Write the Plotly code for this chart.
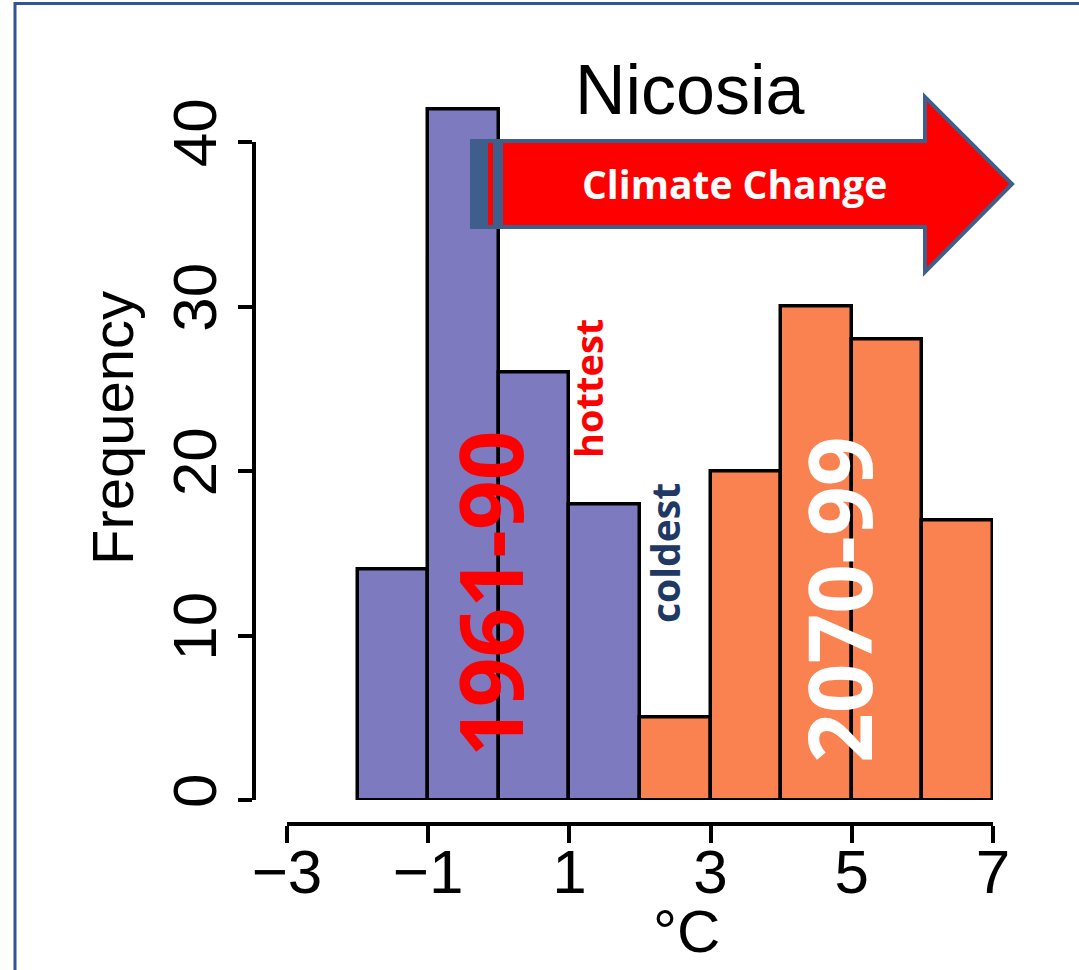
import plotly.graph_objects as go

# ---------------- data ----------------
blue_edges = [-2, -1, 0, 1, 2]          # 1961-90 bins (°C)
blue_counts = [14, 42, 26, 18]
orange_edges = [2, 3, 4, 5, 6, 7]       # 2070-99 bins (°C)
orange_counts = [5, 20, 30, 28, 17]

x_ticks = [-3, -1, 1, 3, 5, 7]
x_tick_text = ["\u22123", "\u22121", "1", "3", "5", "7"]
y_ticks = [0, 10, 20, 30, 40]
y_tick_text = ["0", "10", "20", "30", "40"]

title_text = "Nicosia"
x_title = "°C"
y_title = "Frequency"
label_past = "1961-90"
label_future = "2070-99"
label_hot = "hottest"
label_cold = "coldest"
arrow_text = "Climate Change"

# ---------------- layout geometry (pixels) ----------------
W, H = 1079, 970
X0_PX, X1_PX = 287, 993      # x = -3 .. 7
Y0_PX, Y40_PX = 800, 142     # y = 0 .. 40
px_per_y = (Y0_PX - Y40_PX) / 40.0


def fx(px):
    return px / W


def fy(py):
    return 1 - py / H


def mids(edges):
    return [(a + b) / 2 for a, b in zip(edges[:-1], edges[1:])]


def widths(edges):
    return [b - a for a, b in zip(edges[:-1], edges[1:])]


Y_MAX = 48
y_main_top_px = Y0_PX - px_per_y * Y_MAX

BLUE = "#7D7AC0"
ORANGE = "#FA8250"
AXFONT = "Liberation Sans, Arial, sans-serif"
BOLDFONT = "Open Sans, Noto Sans, sans-serif"

fig = go.Figure()
fig.add_trace(go.Bar(
    x=mids(blue_edges), y=blue_counts, width=widths(blue_edges),
    marker=dict(color=BLUE, line=dict(color="black", width=3.5)),
    xaxis="x", yaxis="y", showlegend=False, hoverinfo="skip"))
fig.add_trace(go.Bar(
    x=mids(orange_edges), y=orange_counts, width=widths(orange_edges),
    marker=dict(color=ORANGE, line=dict(color="black", width=3.5)),
    xaxis="x", yaxis="y", showlegend=False, hoverinfo="skip"))
# invisible trace carrying the tick-only y axis
fig.add_trace(go.Scatter(x=[0], y=[0], mode="markers", marker=dict(opacity=0),
                         xaxis="x", yaxis="y2", showlegend=False, hoverinfo="skip"))

fig.update_layout(
    width=W, height=H, autosize=False,
    margin=dict(l=0, r=0, t=0, b=0, pad=0, autoexpand=False),
    paper_bgcolor="white", plot_bgcolor="rgba(0,0,0,0)",
    bargap=0, showlegend=False,
    xaxis=dict(
        domain=[fx(X0_PX), fx(X1_PX)], range=[-3, 7],
        anchor="free", position=fy(824), automargin=False,
        showline=True, linecolor="black", linewidth=4,
        ticks="outside", ticklen=17, tickwidth=4, tickcolor="black",
        tickvals=x_ticks, ticktext=x_tick_text, ticklabelstandoff=-24,
        tickfont=dict(family=AXFONT, size=62, color="black"),
        showgrid=False, zeroline=False, fixedrange=True,
    ),
    yaxis=dict(
        domain=[fy(Y0_PX), fy(y_main_top_px)], range=[0, Y_MAX], automargin=False,
        visible=False, showgrid=False, zeroline=False, fixedrange=True,
    ),
    yaxis2=dict(
        domain=[fy(Y0_PX), fy(Y40_PX)], range=[0, 40],
        anchor="free", position=fx(254), side="left", automargin=False,
        showline=True, linecolor="black", linewidth=4,
        ticks="outside", ticklen=14, tickwidth=4, tickcolor="black",
        tickvals=y_ticks, ticktext=y_tick_text, tickangle=-90, ticklabelstandoff=-3,
        tickfont=dict(family=AXFONT, size=62, color="black"),
        showgrid=False, zeroline=False, fixedrange=True,
    ),
)

shapes = []
# frame
shapes.append(dict(type="line", xref="paper", yref="paper", x0=fx(14), x1=1, y0=fy(3.5), y1=fy(3.5),
                   line=dict(color="#2E5594", width=3), layer="above"))
shapes.append(dict(type="line", xref="paper", yref="paper", x0=fx(15), x1=fx(15), y0=fy(2), y1=0,
                   line=dict(color="#2E5594", width=3), layer="above"))
# arrow
pts = [(472, 141), (925, 141), (925, 97), (1012, 184), (925, 272), (925, 227), (472, 227)]
path = "M " + " L ".join(f"{fx(a):.5f},{fy(b):.5f}" for a, b in pts) + " Z"
shapes.append(dict(type="path", xref="paper", yref="paper", path=path,
                   fillcolor="#FF0000", line=dict(color="#3E5F8C", width=4), layer="above"))
shapes.append(dict(type="rect", xref="paper", yref="paper", x0=fx(472), x1=fx(488), y0=fy(227), y1=fy(141),
                   fillcolor="#3E5F8C", line=dict(width=0), layer="above"))
shapes.append(dict(type="rect", xref="paper", yref="paper", x0=fx(493), x1=fx(503), y0=fy(225), y1=fy(143),
                   fillcolor="#3E5F8C", line=dict(width=0), layer="above"))
fig.update_layout(shapes=shapes)

ann = []


def add_text(text, cx, cy, size, color, family, angle=0, bold=False):
    ann.append(dict(text=text, x=fx(cx), y=fy(cy), xref="paper", yref="paper",
                    xanchor="center", yanchor="middle", showarrow=False, textangle=angle,
                    font=dict(family=family, size=size, color=color,
                              weight="bold" if bold else "normal")))


add_text(title_text, 690, 90, 70, "black", AXFONT)
add_text(y_title, 112, 428, 58, "black", AXFONT, angle=-90)
add_text(x_title, 686, 931, 60, "black", AXFONT)
add_text(arrow_text, 734, 183, 39, "white", BOLDFONT, bold=True)
add_text(label_past, 489, 594, 87, "#FF0000", BOLDFONT, angle=-90, bold=True)
add_text(label_future, 838, 600, 87, "white", BOLDFONT, angle=-90, bold=True)
add_text(label_hot, 588, 389, 38, "#FF0000", BOLDFONT, angle=-90, bold=True)
add_text(label_cold, 664, 553, 39, "#1F3864", BOLDFONT, angle=-90, bold=True)
fig.update_layout(annotations=ann)

fig.write_html("out.html", config={"displayModeBar": False},
               post_script="document.body.style.margin='0';")
